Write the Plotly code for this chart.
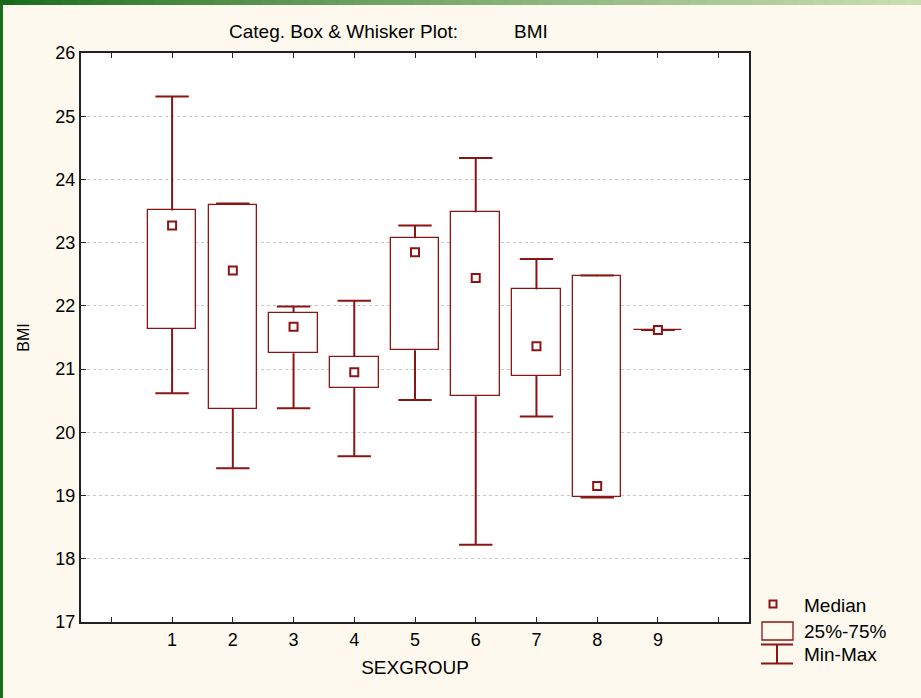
import plotly.graph_objects as go
import numpy as np

groups = [1, 2, 3, 4, 5, 6, 7, 8, 9]
mins    = [20.62, 19.43, 20.38, 19.62, 20.51, 18.22, 20.25, 18.97, 21.62]
q1      = [21.64, 20.37, 21.25, 20.70, 21.30, 20.57, 20.89, 18.97, 21.62]
medians = [23.27, 22.56, 21.67, 20.95, 22.85, 22.44, 21.36, 19.15, 21.62]
q3      = [23.51, 23.60, 21.89, 21.19, 23.07, 23.48, 22.26, 22.47, 21.62]
maxs    = [25.31, 23.62, 21.99, 22.08, 23.27, 24.34, 22.74, 22.48, 21.62]
x_ticks = [0, 1, 2, 3, 4, 5, 6, 7, 8, 9, 10]
x_ticktext = ["", "1", "2", "3", "4", "5", "6", "7", "8", "9", ""]
y_ticks = [17, 18, 19, 20, 21, 22, 23, 24, 25, 26]

RED = "#8b1414"
FONT = "Liberation Sans, Arial, sans-serif"
BOX_W = 0.8
CAP_W = 0.55

fig = go.Figure()

# whiskers (vertical parts + caps)
wx, wy = [], []
for g, lo, a, b, hi in zip(groups, mins, q1, q3, maxs):
    wx += [g, g, None, g, g, None, g - CAP_W / 2, g + CAP_W / 2, None, g - CAP_W / 2, g + CAP_W / 2, None]
    wy += [lo, a, None, b, hi, None, hi, hi, None, lo, lo, None]
fig.add_trace(go.Scatter(x=wx, y=wy, mode="lines", line=dict(color=RED, width=2),
                         hoverinfo="skip", showlegend=False))

# boxes
fig.add_trace(go.Bar(x=groups, y=[b - a for a, b in zip(q1, q3)], base=q1, width=BOX_W,
                     marker=dict(color="white", line=dict(color=RED, width=1.3)),
                     showlegend=False))

# medians
fig.add_trace(go.Scatter(x=groups, y=medians, mode="markers",
                         marker=dict(symbol="square", size=8, color="white",
                                     line=dict(color=RED, width=2)),
                         showlegend=False))

L, T, R, B = 81, 53, 172, 76
W, H = 921, 698
pw, ph = W - L - R, H - T - B

def px(x):
    return (x - L) / pw

def py(y):
    return (H - B - y) / ph

shapes = []
# left green strip
shapes.append(dict(type="rect", xref="paper", yref="paper", x0=px(0), x1=px(3), y0=py(H), y1=py(0),
                   fillcolor="#1b6e1e", line=dict(width=0), layer="above"))
# top gradient strip
n = 60
c0 = np.array([0x18, 0x6a, 0x1a])
c1 = np.array([0xca, 0xde, 0xb2])
for i in range(n):
    t = i / (n - 1)
    c = (c0 + (c1 - c0) * t ** 0.8).astype(int)
    shapes.append(dict(type="rect", xref="paper", yref="paper",
                       x0=px(W * i / n), x1=px(W * (i + 1) / n + 1), y0=py(5), y1=py(0),
                       fillcolor="rgb(%d,%d,%d)" % tuple(c), line=dict(width=0), layer="above"))

# legend symbols
shapes.append(dict(type="rect", xref="paper", yref="paper", x0=px(762), x1=px(793), y0=py(640), y1=py(622),
                   fillcolor="rgba(0,0,0,0)", line=dict(color=RED, width=1.3)))
shapes.append(dict(type="line", xref="paper", yref="paper", x0=px(761), x1=px(793), y0=py(644.5), y1=py(644.5),
                   line=dict(color=RED, width=2)))
shapes.append(dict(type="line", xref="paper", yref="paper", x0=px(761), x1=px(793), y0=py(663.5), y1=py(663.5),
                   line=dict(color=RED, width=2)))
shapes.append(dict(type="line", xref="paper", yref="paper", x0=px(777), x1=px(777), y0=py(644.5), y1=py(663.5),
                   line=dict(color=RED, width=2)))
shapes.append(dict(type="rect", xref="paper", yref="paper", x0=px(769.5), x1=px(776.5), y0=py(607.5), y1=py(600.5),
                   fillcolor="rgba(0,0,0,0)", line=dict(color=RED, width=2)))

TXT = 19
annotations = [
    dict(text="Categ. Box & Whisker Plot:", xref="paper", yref="paper", x=px(227), y=py(32),
         xanchor="left", yanchor="middle", showarrow=False, font=dict(size=TXT, color="black", family=FONT)),
    dict(text="BMI", xref="paper", yref="paper", x=px(512), y=py(32),
         xanchor="left", yanchor="middle", showarrow=False, font=dict(size=TXT, color="black", family=FONT)),
    dict(text="Median", xref="paper", yref="paper", x=px(802), y=py(605),
         xanchor="left", yanchor="middle", showarrow=False, font=dict(size=TXT, color="black", family=FONT)),
    dict(text="25%-75%", xref="paper", yref="paper", x=px(802), y=py(631),
         xanchor="left", yanchor="middle", showarrow=False, font=dict(size=TXT, color="black", family=FONT)),
    dict(text="Min-Max", xref="paper", yref="paper", x=px(802), y=py(654),
         xanchor="left", yanchor="middle", showarrow=False, font=dict(size=TXT, color="black", family=FONT)),
]

fig.update_layout(
    width=W, height=H, autosize=False,
    margin=dict(l=L, r=R, t=T, b=B),
    paper_bgcolor="#fdf9ee", plot_bgcolor="white",
    font=dict(family=FONT, size=18, color="black"),
    shapes=shapes, annotations=annotations, showlegend=False, bargap=0,
)
fig.update_xaxes(range=[-0.5, 10.5], tickmode="array", tickvals=x_ticks, ticktext=x_ticktext,
                 ticks="inside", ticklen=5, tickcolor="#222", showline=True, linecolor="#222", linewidth=2,
                 mirror="allticks", showgrid=False, zeroline=False,
                 title=dict(text="SEXGROUP", font=dict(size=TXT), standoff=12),
                 tickfont=dict(size=18))
fig.update_yaxes(range=[17, 26], tickmode="array", tickvals=y_ticks,
                 ticks="inside", ticklen=5, tickcolor="#222", showline=True, linecolor="#222", linewidth=2,
                 mirror="allticks", showgrid=True, gridcolor="#c8c8c8", griddash="dot", gridwidth=1,
                 zeroline=False, title=dict(text="BMI", font=dict(size=16), standoff=22),
                 tickfont=dict(size=18))

fig.write_html("out.html", config={"displayModeBar": False},
               post_script="document.body.style.margin='0';")
